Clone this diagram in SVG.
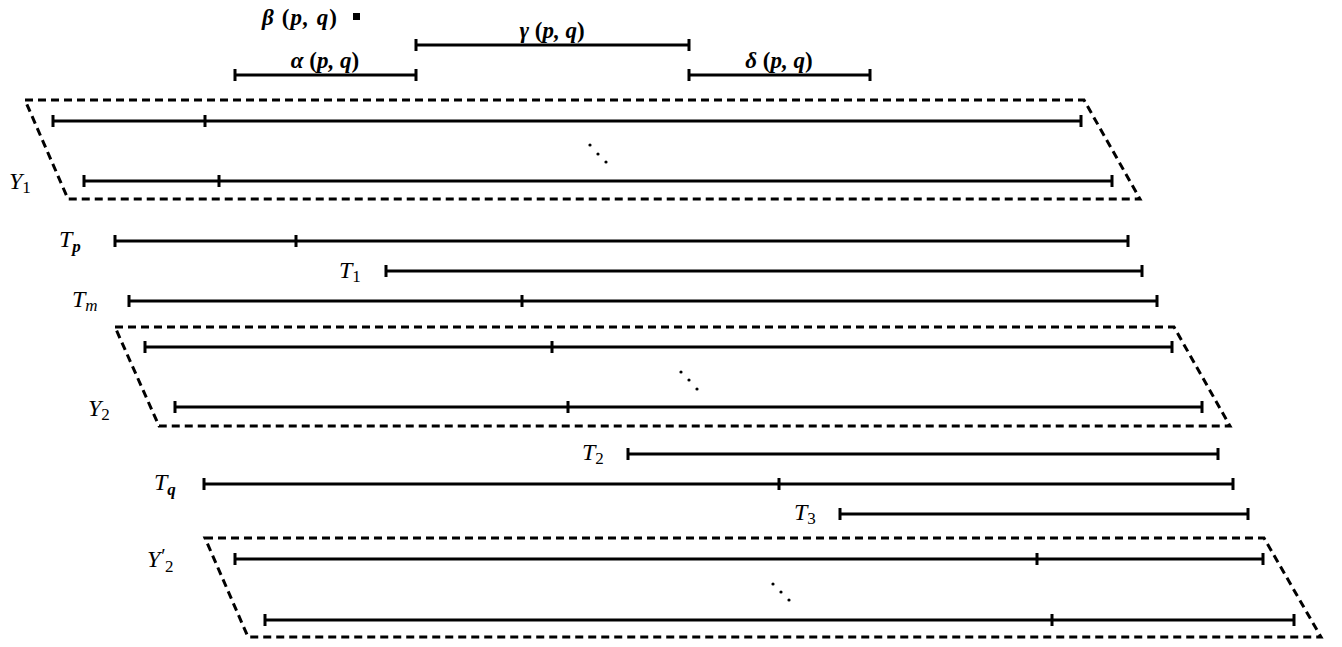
<svg xmlns="http://www.w3.org/2000/svg" width="1342" height="647" viewBox="0 0 1342 647">
<style>
.seg{stroke:#000;stroke-width:3;fill:none}
.box{stroke:#000;stroke-width:3;fill:none;stroke-dasharray:8 5}
.lab{font-family:"Liberation Serif","DejaVu Serif",serif;font-size:24px;font-style:italic;fill:#000}
.bl{font-family:"Liberation Serif","DejaVu Serif",serif;font-size:23px;font-style:italic;font-weight:bold;fill:#000}
.up{font-style:normal}
.sub{font-size:17px}
.dot{fill:#000}
</style>
<rect width="1342" height="647" fill="#fff"/>

<g id="beta">
<text class="bl" x="262" y="25" textLength="75">β <tspan class="up">(</tspan>p, q<tspan class="up">)</tspan></text>
<rect x="353" y="13" width="7" height="7" fill="#000"/>
</g>
<g id="gamma">
<text class="bl" x="552" y="38" text-anchor="middle">γ <tspan class="up">(</tspan>p, q<tspan class="up">)</tspan></text>
<path class="seg" d="M416 45H689M416 39V51M689 39V51"/>
</g>
<g id="alpha">
<text class="bl" x="325" y="68" text-anchor="middle">α <tspan class="up">(</tspan>p, q<tspan class="up">)</tspan></text>
<path class="seg" d="M235 75H416M235 69V81M416 69V81"/>
</g>
<g id="delta">
<text class="bl" x="779" y="68" text-anchor="middle">δ <tspan class="up">(</tspan>p, q<tspan class="up">)</tspan></text>
<path class="seg" d="M689 75H870M689 69V81M870 69V81"/>
</g>

<g id="Y1">
<path class="box" d="M25 100H1084L1140 199H68Z"/>
<path class="seg" d="M53 121H1081M53 115V127M205 115V127M1081 115V127"/>
<path class="seg" d="M84 181H1112M84 175V187M219 175V187M1112 175V187"/>
<circle class="dot" cx="590" cy="145" r="1.6"/><circle class="dot" cx="598" cy="154" r="1.6"/><circle class="dot" cx="606" cy="162" r="1.6"/>
<text class="lab" x="9" y="189">Y<tspan class="up sub" dy="4">1</tspan></text>
</g>

<g id="Tp">
<text class="lab" x="59" y="247">T<tspan class="sub" font-weight="bold" dy="5">p</tspan></text>
<path class="seg" d="M115 241H1128M115 235V247M296 235V247M1128 235V247"/>
</g>
<g id="T1">
<text class="lab" x="339" y="278">T<tspan class="up sub" dy="4">1</tspan></text>
<path class="seg" d="M386 271H1142M386 265V277M1142 265V277"/>
</g>
<g id="Tm">
<text class="lab" x="72" y="307">T<tspan class="sub" dy="4">m</tspan></text>
<path class="seg" d="M129 301H1157M129 295V307M522 295V307M1157 295V307"/>
</g>

<g id="Y2">
<path class="box" d="M115 327H1174L1230 426H159Z"/>
<path class="seg" d="M145 347H1172M145 341V353M552 341V353M1172 341V353"/>
<path class="seg" d="M175 407H1202M175 401V413M568 401V413M1202 401V413"/>
<circle class="dot" cx="681" cy="372" r="1.6"/><circle class="dot" cx="689" cy="380" r="1.6"/><circle class="dot" cx="697" cy="389" r="1.6"/>
<text class="lab" x="88" y="416">Y<tspan class="up sub" dy="4">2</tspan></text>
</g>

<g id="T2">
<text class="lab" x="582" y="460">T<tspan class="up sub" dy="4">2</tspan></text>
<path class="seg" d="M628 454H1218M628 448V460M1218 448V460"/>
</g>
<g id="Tq">
<text class="lab" x="154" y="490">T<tspan class="sub" font-weight="bold" dy="5">q</tspan></text>
<path class="seg" d="M204 484H1233M204 478V490M779 478V490M1233 478V490"/>
</g>
<g id="T3">
<text class="lab" x="794" y="520">T<tspan class="up sub" dy="4">3</tspan></text>
<path class="seg" d="M840 514H1248M840 508V520M1248 508V520"/>
</g>

<g id="Y2p">
<path class="box" d="M205 538H1264L1321 637H248Z"/>
<path class="seg" d="M235 559H1263M235 553V565M1037 553V565M1263 553V565"/>
<path class="seg" d="M265 620H1294M265 614V626M1052 614V626M1294 614V626"/>
<circle class="dot" cx="773" cy="584" r="1.6"/><circle class="dot" cx="781" cy="592" r="1.6"/><circle class="dot" cx="789" cy="600" r="1.6"/>
<text class="lab" x="147" y="567">Y<tspan class="up" font-size="20" dx="1" dy="-4">′</tspan><tspan class="up sub" x="165" dy="9">2</tspan></text>
</g>
</svg>
